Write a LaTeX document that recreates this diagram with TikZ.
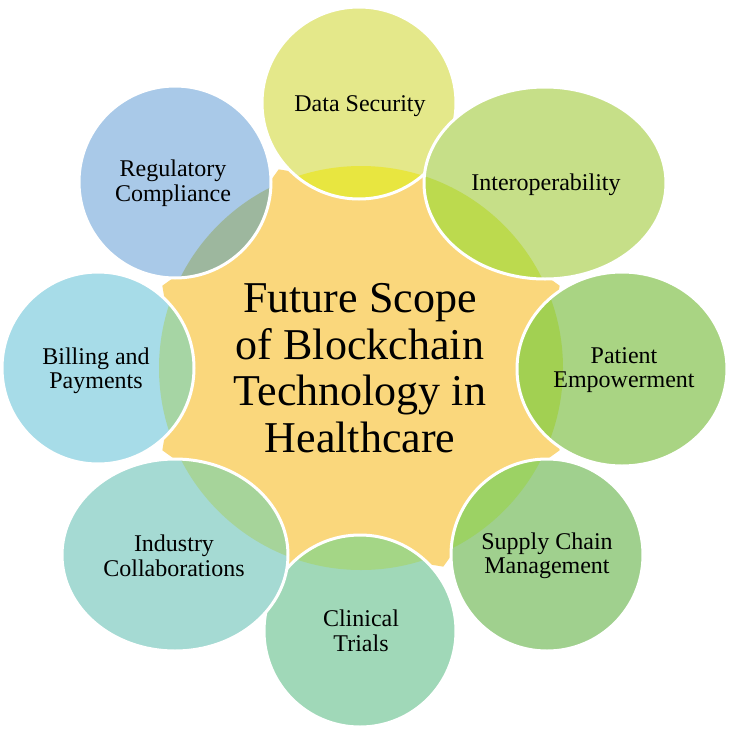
\documentclass[tikz,border=0pt]{standalone}
\usepackage{fontspec}
\setmainfont{Liberation Serif}
\definecolor{starc}{HTML}{FAD77C}
\definecolor{dsb}{HTML}{E4E88A}\definecolor{dso}{HTML}{E8E640}
\definecolor{iob}{HTML}{C6DF88}\definecolor{ioo}{HTML}{BCDA4E}
\definecolor{peb}{HTML}{A9D483}\definecolor{peo}{HTML}{A2D052}
\definecolor{scb}{HTML}{A0D08E}\definecolor{sco}{HTML}{9CD264}
\definecolor{ctb}{HTML}{A0D8B8}\definecolor{cto}{HTML}{A4D686}
\definecolor{icb}{HTML}{A5DAD3}\definecolor{ico}{HTML}{A6D49A}
\definecolor{bpb}{HTML}{A7DCE8}\definecolor{bpo}{HTML}{A6D5A4}
\definecolor{rcb}{HTML}{A9C9E8}\definecolor{rco}{HTML}{9DB79E}
\newcommand\mypetal[6]{%
  \fill[#5] (#1,#2) ellipse[x radius=#3pt, y radius=#4pt];
  \begin{scope}
    \clip (#1,#2) ellipse[x radius=#3pt, y radius=#4pt];
    \fill[#6] (ctr) circle[radius=202pt];
  \end{scope}
  \draw[ring] (#1,#2) ellipse[x radius=#3pt, y radius=#4pt];
}
\begin{document}
\begin{tikzpicture}[x=1pt,y=-1pt,
  ring/.style={draw=white, line width=3pt},
  lbl/.style={align=center, font=\fontsize{24}{24.5}\selectfont, text=black, inner sep=0pt},
  ctrlbl/.style={align=center, font=\fontsize{44}{46.7}\selectfont, text=black, inner sep=0pt}]
\useasboundingbox (0,0) rectangle (733,734);
\fill[white] (0,0) rectangle (733,734);
\coordinate (ctr) at (361,368);
\fill[starc] (ctr) circle[radius=202pt];
\begin{scope}[shift={(ctr)}]
  \foreach \k in {0,...,7} {
    \fill[starc] (\k*45+14:199pt) -- (\k*45+22.5:215pt) -- (\k*45+31:199pt) -- cycle;
  }
\end{scope}
\mypetal{359}{103}{97}{96}{dsb}{dso}
\mypetal{545}{183}{121}{96}{iob}{ioo}
\mypetal{622}{369}{105}{97}{peb}{peo}
\mypetal{547}{555}{96}{96}{scb}{sco}
\mypetal{360}{631}{96}{96}{ctb}{cto}
\mypetal{175}{555}{113}{96}{icb}{ico}
\mypetal{98}{368}{96}{96}{bpb}{bpo}
\mypetal{175}{182}{96}{96}{rcb}{rco}
\node[ctrlbl] (center) at (360,368) {Future Scope\\of Blockchain\\Technology in\\Healthcare};
\node[lbl] (ds) at (360,106) {Data Security};
\node[lbl] (io) at (546,185) {Interoperability};
\node[lbl] (pe) at (624,370) {Patient\\Empowerment};
\node[lbl] (sc) at (547,556) {Supply Chain\\Management};
\node[lbl] (ct) at (361,631) {Clinical\\Trials};
\node[lbl] (ic) at (174,556) {Industry\\Collaborations};
\node[lbl] (bp) at (96,371) {Billing and\\Payments};
\node[lbl] (rc) at (173,183) {Regulatory\\Compliance};
\end{tikzpicture}
\end{document}
